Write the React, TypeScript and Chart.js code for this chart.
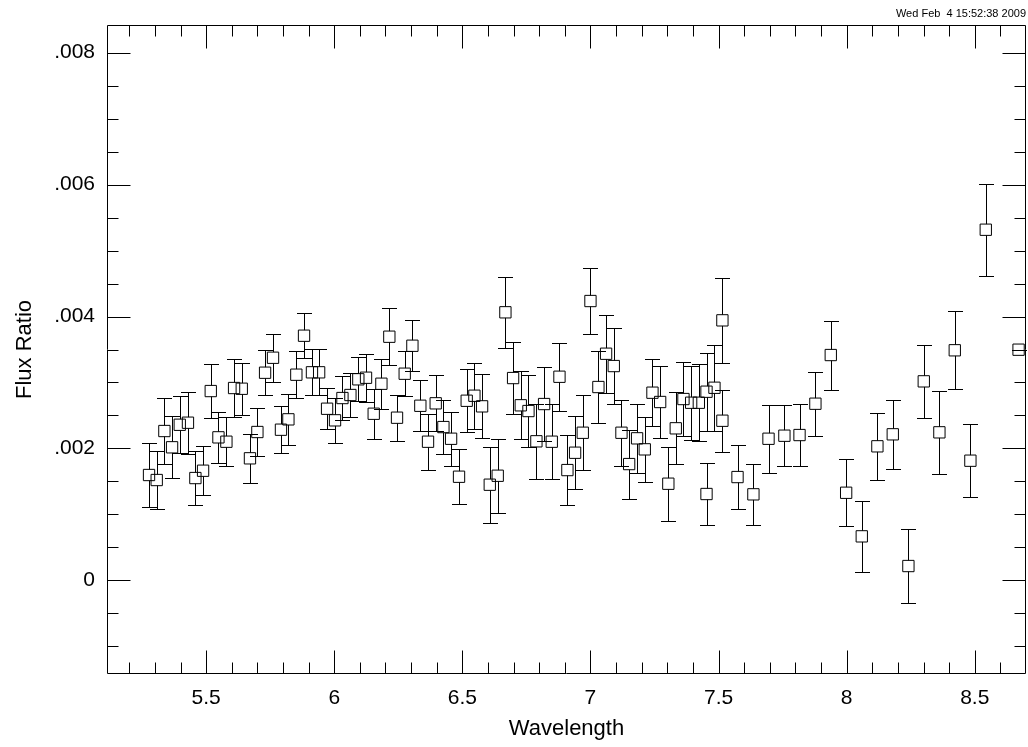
import React, { useEffect, useRef } from "react";
import { Chart, registerables } from "chart.js";

Chart.register(...registerables);

const wavelength = [
  5.277, 5.307, 5.337, 5.367, 5.397, 5.429, 5.458, 5.488, 5.518, 5.548,
  5.579, 5.609, 5.639, 5.671, 5.700, 5.730, 5.761, 5.792, 5.821, 5.852,
  5.882, 5.913, 5.941, 5.972, 6.003, 6.032, 6.063, 6.094, 6.124, 6.154,
  6.184, 6.215, 6.245, 6.275, 6.305, 6.336, 6.366, 6.396, 6.426, 6.456,
  6.487, 6.517, 6.547, 6.577, 6.607, 6.638, 6.668, 6.698, 6.728, 6.758,
  6.789, 6.819, 6.849, 6.879, 6.910, 6.940, 6.970, 7.000, 7.031, 7.061,
  7.091, 7.121, 7.151, 7.182, 7.212, 7.242, 7.272, 7.304, 7.333, 7.363,
  7.393, 7.423, 7.453, 7.484, 7.515, 7.515, 7.453, 7.574, 7.636, 7.695,
  7.757, 7.816, 7.878, 7.938, 7.998, 8.059, 8.120, 8.180, 8.241, 8.301,
  8.362, 8.422, 8.483, 8.543, 8.671,
];

const fluxRatio = [
  1.597e-3, 1.521e-3, 2.264e-3, 2.017e-3, 2.359e-3, 2.390e-3, 1.551e-3, 1.662e-3, 2.870e-3, 2.168e-3,
  2.102e-3, 2.916e-3, 2.905e-3, 1.850e-3, 2.249e-3, 3.148e-3, 3.375e-3, 2.284e-3, 2.441e-3, 3.118e-3,
  3.709e-3, 3.154e-3, 3.154e-3, 2.602e-3, 2.426e-3, 2.764e-3, 2.810e-3, 3.048e-3, 3.072e-3, 2.526e-3,
  2.981e-3, 3.694e-3, 2.466e-3, 3.133e-3, 3.557e-3, 2.647e-3, 2.102e-3, 2.684e-3, 2.324e-3, 2.147e-3,
  1.571e-3, 2.723e-3, 2.799e-3, 2.638e-3, 1.450e-3, 1.586e-3, 4.064e-3, 3.067e-3, 2.654e-3, 2.567e-3,
  2.108e-3, 2.673e-3, 2.102e-3, 3.087e-3, 1.672e-3, 1.935e-3, 2.238e-3, 4.235e-3, 2.931e-3, 3.436e-3,
  3.249e-3, 2.238e-3, 1.763e-3, 2.153e-3, 1.986e-3, 2.845e-3, 2.704e-3, 1.465e-3, 2.305e-3, 2.749e-3,
  2.693e-3, 2.693e-3, 2.860e-3, 2.920e-3, 3.942e-3, 2.420e-3, 1.309e-3, 1.566e-3, 1.304e-3, 2.147e-3,
  2.193e-3, 2.203e-3, 2.678e-3, 3.416e-3, 1.328e-3, 0.667e-3, 2.032e-3, 2.214e-3, 0.217e-3, 3.017e-3,
  2.244e-3, 3.488e-3, 1.814e-3, 5.316e-3, 3.497e-3,
];

const fluxErr = [
  0.490e-3, 0.444e-3, 0.500e-3, 0.470e-3, 0.435e-3, 0.470e-3, 0.404e-3, 0.372e-3, 0.407e-3, 0.384e-3,
  0.374e-3, 0.438e-3, 0.395e-3, 0.374e-3, 0.364e-3, 0.342e-3, 0.366e-3, 0.352e-3, 0.389e-3, 0.356e-3,
  0.345e-3, 0.349e-3, 0.349e-3, 0.310e-3, 0.337e-3, 0.334e-3, 0.341e-3, 0.334e-3, 0.367e-3, 0.379e-3,
  0.382e-3, 0.435e-3, 0.347e-3, 0.339e-3, 0.389e-3, 0.385e-3, 0.425e-3, 0.425e-3, 0.415e-3, 0.408e-3,
  0.420e-3, 0.480e-3, 0.500e-3, 0.483e-3, 0.574e-3, 0.561e-3, 0.540e-3, 0.548e-3, 0.513e-3, 0.550e-3,
  0.571e-3, 0.566e-3, 0.569e-3, 0.516e-3, 0.526e-3, 0.550e-3, 0.566e-3, 0.506e-3, 0.546e-3, 0.591e-3,
  0.580e-3, 0.502e-3, 0.524e-3, 0.526e-3, 0.489e-3, 0.508e-3, 0.548e-3, 0.561e-3, 0.546e-3, 0.566e-3,
  0.561e-3, 0.580e-3, 0.594e-3, 0.650e-3, 0.643e-3, 0.467e-3, 0.466e-3, 0.486e-3, 0.465e-3, 0.519e-3,
  0.458e-3, 0.473e-3, 0.488e-3, 0.523e-3, 0.511e-3, 0.534e-3, 0.506e-3, 0.523e-3, 0.557e-3, 0.554e-3,
  0.627e-3, 0.592e-3, 0.553e-3, 0.698e-3, 0,
];

const xTickValues = [5.5, 6, 6.5, 7, 7.5, 8, 8.5];
const xTickLabels = ["5.5", "6", "6.5", "7", "7.5", "8", "8.5"];
const yTickValues = [0, 0.002, 0.004, 0.006, 0.008];
const yTickLabels = ["0", ".002", ".004", ".006", ".008"];
const xMinorStep = 0.1;
const yMinorStep = 0.0005;
const xRange = [5.113, 8.70];
const yRange = [-0.00142, 0.00842];
const xTitle = "Wavelength";
const yTitle = "Flux Ratio";
const timestamp = "Wed Feb  4 15:52:38 2009";

const FONT = '"Liberation Sans", Arial, Helvetica, sans-serif';

const errorBarPlugin = {
  id: "errorBars",
  afterDatasetsDraw(chart: any) {
    const { ctx, scales } = chart;
    const xs = scales.x;
    const ys = scales.y;
    const half = 5.6;
    const cap = 7.5;
    ctx.save();
    ctx.strokeStyle = "#000";
    ctx.lineWidth = 1;
    ctx.beginPath();
    wavelength.forEach((w, i) => {
      const px = Math.round(xs.getPixelForValue(w)) + 0.5;
      const py = ys.getPixelForValue(fluxRatio[i]);
      const top = Math.round(ys.getPixelForValue(fluxRatio[i] + fluxErr[i])) + 0.5;
      const bot = Math.round(ys.getPixelForValue(fluxRatio[i] - fluxErr[i])) + 0.5;
      if (top < py - half) {
        ctx.moveTo(px, top);
        ctx.lineTo(px, py - half);
      }
      if (bot > py + half) {
        ctx.moveTo(px, py + half);
        ctx.lineTo(px, bot);
      }
      ctx.moveTo(px - cap, top);
      ctx.lineTo(px + cap, top);
      ctx.moveTo(px - cap, bot);
      ctx.lineTo(px + cap, bot);
    });
    ctx.stroke();
    ctx.restore();
  },
};

const framePlugin = {
  id: "frame",
  afterDraw(chart: any) {
    const { ctx, chartArea: a, scales } = chart;
    const xs = scales.x;
    const ys = scales.y;
    ctx.save();
    ctx.strokeStyle = "#000";
    ctx.lineWidth = 1;
    const L = Math.round(a.left) + 0.5;
    const R = Math.round(a.right) - 0.5;
    const T = Math.round(a.top) + 0.5;
    const B = Math.round(a.bottom) - 0.5;
    ctx.beginPath();
    ctx.rect(L, T, R - L, B - T);
    const majorLen = 23;
    const minorLen = 11;
    const xStart = Math.ceil(xRange[0] / xMinorStep);
    const xEnd = Math.floor(xRange[1] / xMinorStep + 1e-6);
    for (let k = xStart; k <= xEnd; k++) {
      const v = k * xMinorStep;
      const px = Math.round(xs.getPixelForValue(v)) + 0.5;
      if (px <= L + 1 || px >= R - 1) continue;
      const isMajor = xTickValues.some((t) => Math.abs(t - v) < 1e-6);
      const len = isMajor ? majorLen : minorLen;
      ctx.moveTo(px, B);
      ctx.lineTo(px, B - len);
      ctx.moveTo(px, T);
      ctx.lineTo(px, T + len);
    }
    const yStart = Math.ceil(yRange[0] / yMinorStep);
    const yEnd = Math.floor(yRange[1] / yMinorStep + 1e-6);
    for (let k = yStart; k <= yEnd; k++) {
      const v = k * yMinorStep;
      const py = Math.round(ys.getPixelForValue(v)) + 0.5;
      if (py <= T + 1 || py >= B - 1) continue;
      const isMajor = yTickValues.some((t) => Math.abs(t - v) < 1e-9);
      const len = isMajor ? majorLen : minorLen;
      ctx.moveTo(L, py);
      ctx.lineTo(L + len, py);
      ctx.moveTo(R, py);
      ctx.lineTo(R - len, py);
    }
    ctx.stroke();
    ctx.fillStyle = "#000";
    ctx.font = `11px ${FONT}`;
    ctx.textAlign = "right";
    ctx.textBaseline = "middle";
    ctx.fillText(timestamp, a.right, 14);
    ctx.restore();
  },
};

export default function App() {
  const canvasRef = useRef<HTMLCanvasElement | null>(null);

  useEffect(() => {
    document.body.style.margin = "0";
    const canvas = canvasRef.current;
    if (!canvas) return;
    const points = wavelength.map((w, i) => ({ x: w, y: fluxRatio[i] }));
    const chart = new Chart(canvas, {
      type: "scatter",
      data: {
        datasets: [
          {
            data: points,
            pointStyle: "rect",
            pointRadius: 8,
            pointHoverRadius: 8,
            borderColor: "#000",
            borderWidth: 1,
            backgroundColor: "rgba(0,0,0,0)",
            showLine: false,
          },
        ],
      },
      options: {
        animation: false,
        responsive: false,
        devicePixelRatio: 1,
        events: [],
        layout: { padding: { top: 25, right: 2, left: 0, bottom: 0 } },
        plugins: {
          legend: { display: false },
          tooltip: { enabled: false },
          title: { display: false },
        },
        scales: {
          x: {
            type: "linear",
            min: xRange[0],
            max: xRange[1],
            grid: { display: false, drawTicks: false },
            border: { display: false },
            afterBuildTicks: (s: any) => {
              s.ticks = xTickValues.map((v) => ({ value: v }));
            },
            afterFit: (s: any) => {
              s.height = 73;
              s.paddingLeft = 0;
              s.paddingRight = 0;
            },
            ticks: {
              autoSkip: false,
              maxRotation: 0,
              minRotation: 0,
              padding: 12,
              color: "#000",
              font: { size: 21, family: FONT },
              callback: (_v: any, i: number) => xTickLabels[i],
            },
            title: {
              display: true,
              text: xTitle,
              color: "#000",
              font: { size: 22, family: FONT },
              padding: { top: 0, bottom: 5 },
            },
          },
          y: {
            type: "linear",
            min: yRange[0],
            max: yRange[1],
            grid: { display: false, drawTicks: false },
            border: { display: false },
            afterBuildTicks: (s: any) => {
              s.ticks = yTickValues.map((v) => ({ value: v }));
            },
            afterFit: (s: any) => {
              s.width = 107;
              s.paddingTop = 0;
              s.paddingBottom = 0;
            },
            ticks: {
              autoSkip: false,
              padding: 12,
              color: "#000",
              font: { size: 21, family: FONT },
              callback: (_v: any, i: number) => yTickLabels[i],
            },
            title: {
              display: true,
              text: yTitle,
              color: "#000",
              font: { size: 22, family: FONT },
              padding: { top: 12, bottom: 0 },
            },
          },
        },
      },
      plugins: [errorBarPlugin, framePlugin],
    } as any);
    // The point markers would otherwise reserve extra padding at the chart edges.
    const meta: any = chart.getDatasetMeta(0);
    if (meta && meta.controller) {
      meta.controller.getMaxOverflow = () => 0;
    }
    chart.update();
    return () => chart.destroy();
  }, []);

  return (
    <canvas
      ref={canvasRef}
      width={1028}
      height={747}
      style={{ display: "block", width: 1028, height: 747 }}
    />
  );
}
